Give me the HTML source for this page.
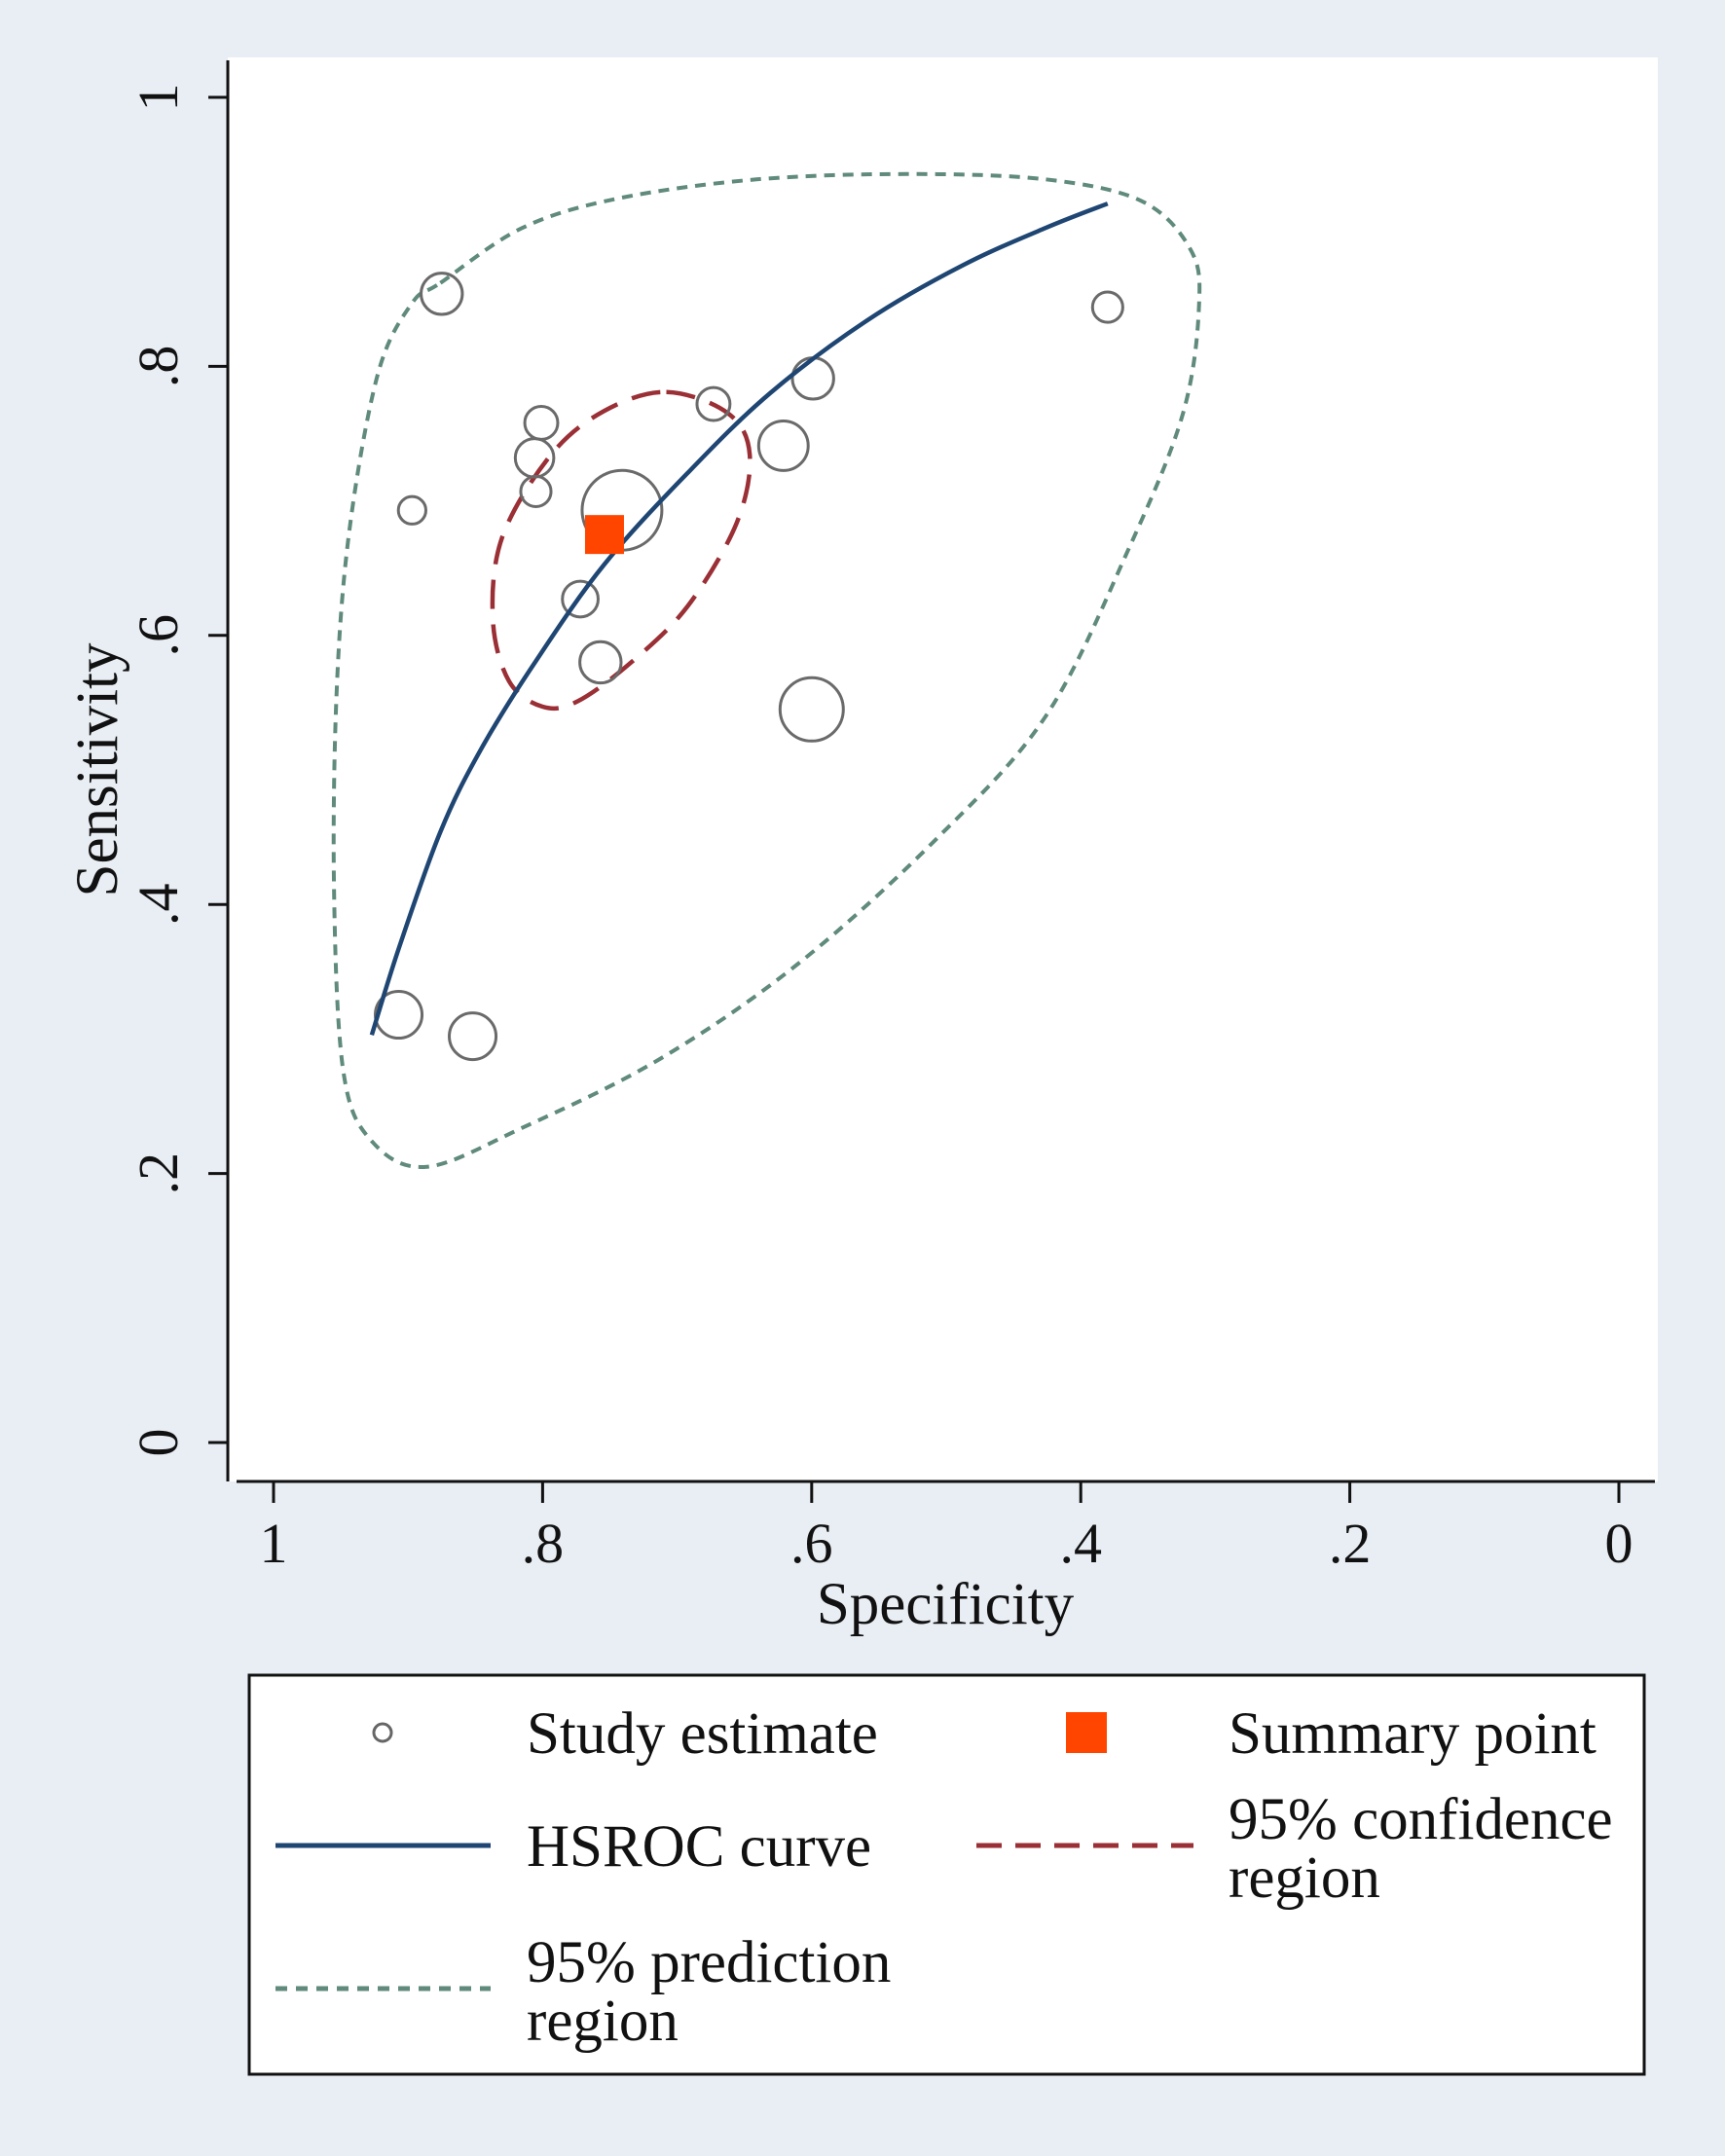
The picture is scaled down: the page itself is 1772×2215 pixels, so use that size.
<!DOCTYPE html>
<html><head><meta charset="utf-8"><style>
html,body{margin:0;padding:0;background:#e9eef5;}
svg{display:block;}
text{font-family:"Liberation Serif",serif;fill:#111;}
</style></head><body>
<svg id="chart" width="1772" height="2215" viewBox="0 0 1772 2215" xmlns="http://www.w3.org/2000/svg">
<rect x="0" y="0" width="1772" height="2215" fill="#e9eef5"/>
<rect x="234" y="59" width="1469" height="1463" fill="#ffffff"/>
<g id="marks"></g>
<line x1="234" y1="62" x2="234" y2="1522" stroke="#111" stroke-width="3"/>
<line x1="243" y1="1522" x2="1700" y2="1522" stroke="#111" stroke-width="3"/>
<g id="axes"></g>
<text x="971" y="1668" font-size="61" text-anchor="middle">Specificity</text>
<text transform="translate(120,791) rotate(-90)" font-size="61" text-anchor="middle">Sensitivity</text>
<g>
<rect x="256" y="1721" width="1433" height="410" fill="#fff" stroke="#111" stroke-width="3"/>
<circle cx="393" cy="1780" r="9" fill="none" stroke="#666" stroke-width="3"/>
<text x="541" y="1801" font-size="61">Study estimate</text>
<rect x="1095" y="1759" width="42" height="42" fill="#ff4500"/>
<text x="1262" y="1801" font-size="61">Summary point</text>
<line x1="283" y1="1896" x2="504" y2="1896" stroke="#1f4673" stroke-width="5"/>
<text x="541" y="1917" font-size="61">HSROC curve</text>
<line x1="1003" y1="1896" x2="1226" y2="1896" stroke="#9a2f35" stroke-width="5" stroke-dasharray="26,14"/>
<text x="1262" y="1889" font-size="61">95% confidence</text>
<text x="1262" y="1949" font-size="61">region</text>
<line x1="283" y1="2043" x2="504" y2="2043" stroke="#5f8a7c" stroke-width="5" stroke-dasharray="12,9"/>
<text x="541" y="2036" font-size="61">95% prediction</text>
<text x="541" y="2096" font-size="61">region</text>
</g>
</svg>
<script>
const ticks = [0, 0.2, 0.4, 0.6, 0.8, 1];
const tickLabels = ["0", ".2", ".4", ".6", ".8", "1"];
const studySpec = [0.875,0.380,0.673,0.599,0.801,0.806,0.621,0.805,0.741,0.897,0.772,0.757,0.600,0.907,0.852];
const studySens = [0.854,0.844,0.772,0.791,0.758,0.732,0.741,0.707,0.693,0.693,0.627,0.580,0.545,0.318,0.302];
const studyWeight = [15,11,12,15,12,14,18,11,29,10,13,15,23,17,17];
const summarySpec = 0.754, summarySens = 0.675;
const hsrocSpec = [0.927,0.907,0.876,0.846,0.805,0.754,0.692,0.631,0.559,0.488,0.426,0.380];
const hsrocSens = [0.303,0.367,0.454,0.515,0.581,0.653,0.721,0.780,0.834,0.875,0.903,0.921];
const confSpec = [0.708,0.662,0.646,0.656,0.692,0.733,0.774,0.800,0.825,0.837,0.830,0.794,0.754];
const confSens = [0.781,0.765,0.734,0.683,0.622,0.581,0.551,0.547,0.566,0.612,0.673,0.734,0.767];
const predSpec = [0.876,0.815,0.743,0.641,0.529,0.426,0.355,0.319,0.312,0.324,0.365,0.426,0.508,0.610,0.713,0.815,0.886,0.927,0.948,0.955,0.953,0.943,0.922,0.897];
const predSens = [0.862,0.903,0.925,0.939,0.943,0.939,0.923,0.888,0.847,0.765,0.663,0.540,0.448,0.356,0.285,0.234,0.205,0.224,0.275,0.408,0.561,0.683,0.796,0.847];

const NS='http://www.w3.org/2000/svg';
const xS = v => 1663 - v*(1663-281);
const yS = v => 1482 - v*(1482-100);
const marks = document.getElementById('marks');
const axes = document.getElementById('axes');
function mk(tag, attrs, parent){const e=document.createElementNS(NS,tag);for(const k in attrs)e.setAttribute(k,attrs[k]);parent.appendChild(e);return e;}
function catmull(pts, closed){
  const n=pts.length;let d='M'+pts[0][0].toFixed(1)+','+pts[0][1].toFixed(1);
  const g=i=>closed?pts[(i+n)%n]:pts[Math.max(0,Math.min(n-1,i))];
  const last=closed?n:n-1;
  for(let i=0;i<last;i++){const p0=g(i-1),p1=g(i),p2=g(i+1),p3=g(i+2);
    const c1=[p1[0]+(p2[0]-p0[0])/6,p1[1]+(p2[1]-p0[1])/6],c2=[p2[0]-(p3[0]-p1[0])/6,p2[1]-(p3[1]-p1[1])/6];
    d+=' C'+c1.map(v=>v.toFixed(1)).join(',')+' '+c2.map(v=>v.toFixed(1)).join(',')+' '+p2.map(v=>v.toFixed(1)).join(',');}
  return d+(closed?' Z':'');
}
ticks.forEach((t,i)=>{
  let e=mk('line',{x1:214,x2:234,y1:yS(t),y2:yS(t),stroke:'#111','stroke-width':3},axes);
  
  
  e=mk('text',{transform:'translate(182,'+yS(t)+') rotate(-90)','font-size':58,'text-anchor':'middle'},axes);
  e.textContent=tickLabels[i];
  
  
  e=mk('line',{x1:xS(t),x2:xS(t),y1:1522,y2:1544,stroke:'#111','stroke-width':3},axes);
  
  
  e=mk('text',{x:xS(t),y:1605,'font-size':58,'text-anchor':'middle'},axes);
  e.textContent=tickLabels[i];
  
  
});
let p=mk('path',{d:catmull(predSpec.map((s,i)=>[xS(s),yS(predSens[i])]),true),fill:'none',stroke:'#5f8a7c','stroke-width':4,'stroke-dasharray':'11,8'},marks);


p=mk('path',{d:catmull(confSpec.map((s,i)=>[xS(s),yS(confSens[i])]),true),fill:'none',stroke:'#9a2f35','stroke-width':4.5,'stroke-dasharray':'30,16'},marks);


studySpec.forEach((s,i)=>{
  const c=mk('circle',{cx:xS(s),cy:yS(studySens[i]),r:studyWeight[i]*1.413,fill:'none',stroke:'#6a6a6a','stroke-width':3},marks);
  
  
});
p=mk('path',{d:catmull(hsrocSpec.map((s,i)=>[xS(s),yS(hsrocSens[i])]),false),fill:'none',stroke:'#1f4673','stroke-width':4.5},marks);


const sq=mk('rect',{x:xS(summarySpec)-20,y:yS(summarySens)-20,width:40,height:40,fill:'#ff4500'},marks);


</script>
</body></html>
